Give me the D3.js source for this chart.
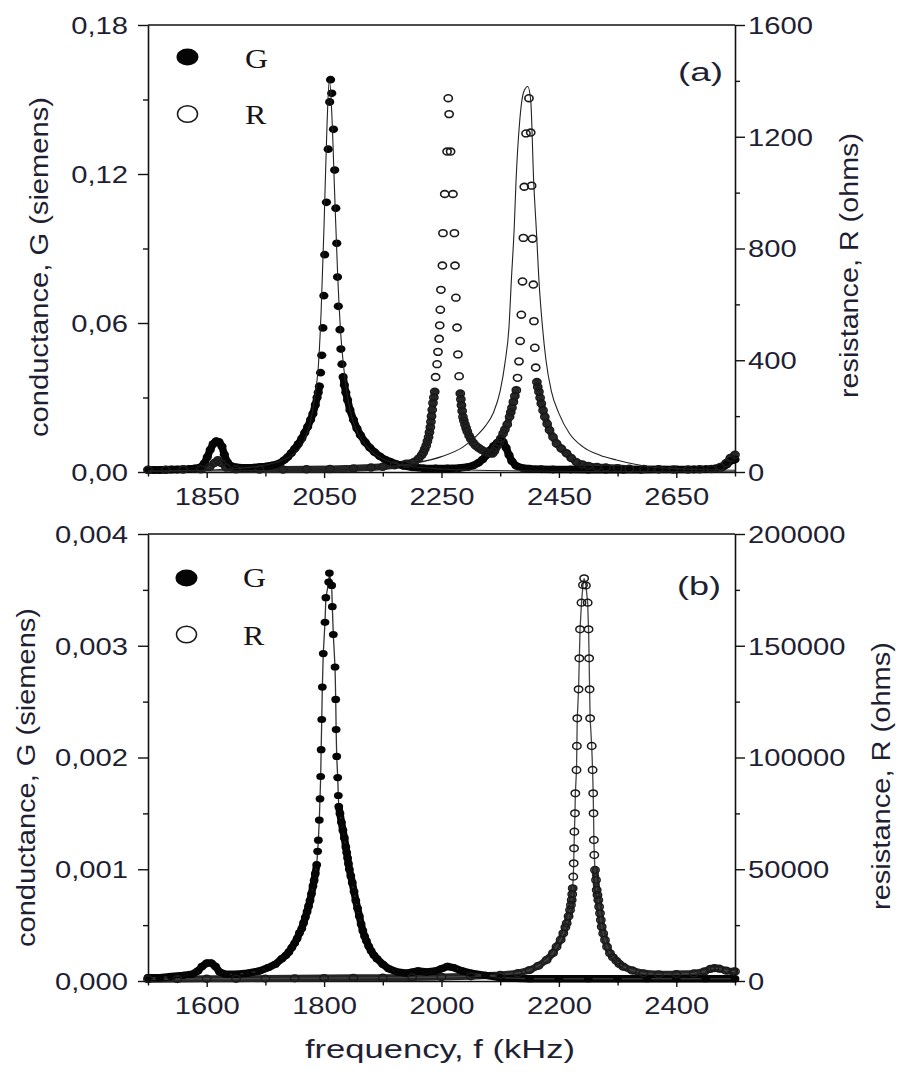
<!DOCTYPE html>
<html>
<head>
<meta charset="utf-8">
<script src="https://cdn.jsdelivr.net/npm/d3@7"></script>
<style>
  html,body{margin:0;padding:0;background:#fff;}
  svg{display:block;}
</style>
</head>
<body>
<script>
// ---------------- DATA ----------------
// Panel (a): frequency (kHz), conductance G (S)
const condA = [[1750,0.0008],[1760,0.0008],[1770,0.0008],[1780,0.0009],[1790,0.001],[1800,0.001],[1810,0.0011],[1820,0.0012],[1830,0.0014],[1840,0.002],[1846,0.0035],[1851,0.006],[1856,0.009],[1861,0.0113],[1866,0.0124],[1871,0.0121],[1876,0.0103],[1880,0.007],[1885,0.004],[1890,0.0026],[1900,0.0019],[1910,0.0017],[1920,0.0017],[1930,0.0018],[1940,0.002],[1950,0.0022],[1960,0.0026],[1968,0.003],[1975,0.0036],[1982,0.0048],[1988,0.006],[1994,0.0076],[2000,0.0094],[2006,0.0113],[2012,0.0135],[2017,0.0158],[2022,0.0182],[2027,0.021],[2031,0.0235],[2035,0.027],[2038,0.03],[2040,0.032],[2042,0.0345],[2044,0.040],[2046,0.047],[2048,0.058],[2049.6,0.071],[2051,0.0875],[2054,0.1086],[2057,0.130],[2059.5,0.149],[2061,0.158],[2063,0.1525],[2066,0.138],[2068,0.1216],[2070,0.1062],[2071.6,0.0921],[2072.8,0.0785],[2074.2,0.0667],[2077,0.0573],[2078.6,0.0495],[2080.4,0.0434],[2082.4,0.0383],[2084.5,0.035],[2087,0.032],[2090,0.029],[2094,0.025],[2100,0.021],[2106,0.0175],[2112,0.0148],[2120,0.012],[2128,0.0098],[2136,0.008],[2145,0.0063],[2154,0.005],[2162,0.0042],[2172,0.0033],[2185,0.0025],[2200,0.0019],[2220,0.0015],[2240,0.0014],[2260,0.0014],[2280,0.0016],[2295,0.002],[2305,0.0027],[2313,0.0037],[2320,0.005],[2327,0.0068],[2333,0.0088],[2339,0.0105],[2345,0.0118],[2350,0.0124],[2355,0.0121],[2360,0.0098],[2365,0.0068],[2370,0.0043],[2377,0.0025],[2388,0.0016],[2400,0.0013],[2420,0.0011],[2440,0.001],[2470,0.001],[2500,0.0009],[2530,0.0009],[2560,0.0009],[2590,0.0009],[2620,0.001],[2650,0.001],[2680,0.001],[2700,0.0011],[2715,0.0013],[2728,0.0018],[2736,0.003],[2743,0.0045],[2750,0.005]];
// Panel (a): frequency (kHz), resistance R (ohms)
const resA = [[1750,8],[1780,8],[1810,9],[1840,10],[1855,18],[1863,32],[1869,42],[1875,32],[1883,16],[1900,10],[1940,9],[1980,9],[2020,10],[2060,11],[2100,13],[2130,16],[2150,19],[2170,24],[2190,30],[2204,37],[2211,48],[2216,60],[2219,70],[2221.5,82],[2224,95],[2226,110],[2228,125],[2229.5,142],[2231,160],[2232,180],[2233,200],[2234.2,223],[2235.5,247],[2237,267],[2238.5,287],[2240,340],[2242.5,386],[2244,430],[2246,477],[2247,525],[2248,581],[2249,652],[2251.5,739],[2252.5,855],[2255.5,995],[2259.5,1147],[2261.5,1338],[2263,1281],[2265.5,1147],[2269.5,995],[2272,855],[2273,739],[2274.5,624],[2276.5,517],[2278,421],[2280,343],[2282,281],[2283,260],[2284,239],[2285.2,218],[2286.5,198],[2288,184],[2290,170],[2292,157],[2294,145],[2297,130],[2300,118],[2304,105],[2308,95],[2313,87],[2318,80],[2323,74],[2328,70],[2333,67],[2337,66],[2340,74],[2342,85],[2345,95],[2348,105],[2351,120],[2355,138],[2358,152],[2362,170],[2366,198],[2368,214],[2370,230],[2372.5,251],[2375,272],[2377.5,293],[2379.5,337],[2382,396],[2384,469],[2386,563],[2388,682],[2389.5,838],[2391,1021],[2394,1212],[2399,1338],[2402,1215],[2403.5,1025],[2405,835],[2406.5,671],[2407.5,540],[2409,445],[2410.5,374],[2412.5,322],[2414,304],[2416,287],[2418,266],[2420,245],[2423,221],[2426,198],[2430,173],[2434,150],[2440,125],[2446,102],[2454,84],[2463,67],[2471,50],[2480,35],[2490,27],[2500,22],[2515,18],[2530,16],[2550,14],[2570,12],[2595,11],[2620,10],[2645,9],[2670,9],[2690,10],[2710,11],[2725,18],[2735,32],[2742,50],[2750,62]];
// Panel (a): fitted curves (thin lines)
const fitCondA = [[1750,0.0004],[1850,0.0008],[1900,0.0014],[1950,0.0028],[1980,0.0048],[2000,0.0075],[2010,0.0100],[2020,0.0148],[2030,0.0240],[2037,0.035],[2040,0.042],[2045,0.065],[2050,0.100],[2055,0.140],[2059,0.158],[2063,0.145],[2068,0.112],[2073,0.080],[2078,0.057],[2083,0.043],[2090,0.030],[2100,0.020],[2110,0.0145],[2120,0.0110],[2133,0.0078],[2150,0.0052],[2170,0.0035],[2200,0.0022],[2250,0.0012],[2300,0.0008],[2400,0.0004],[2500,0.0002],[2750,0.0001]];
const fitResA = [[1750,3],[2000,6],[2100,10],[2150,16],[2200,30],[2250,55],[2287,90],[2310,130],[2325,165],[2338,210],[2350,290],[2358,388],[2365,520],[2369,686],[2374,880],[2377,1043],[2383,1250],[2390,1360],[2397,1380],[2402,1330],[2407,1043],[2412,850],[2416,686],[2422,520],[2428,400],[2437,290],[2450,210],[2468,138],[2491,90],[2520,60],[2548,43],[2604,19],[2650,12],[2700,8],[2750,6]];

// Panel (b): frequency (kHz), conductance G (S)
const condB = [[1500,0.00003],[1520,0.00003],[1540,0.00004],[1560,0.00005],[1575,0.00006],[1585,0.00009],[1592,0.00013],[1600,0.00016],[1608,0.00016],[1615,0.00013],[1622,0.00008],[1632,0.00006],[1650,0.00006],[1670,0.00007],[1690,0.00009],[1705,0.00012],[1717,0.00015],[1728,0.0002],[1735,0.00023],[1740,0.00026],[1745,0.0003],[1750,0.00034],[1754,0.00038],[1758,0.00043],[1762,0.00047],[1765,0.00052],[1768,0.00057],[1771,0.00062],[1773.5,0.00067],[1776,0.00072],[1778.5,0.00078],[1781,0.00085],[1783,0.0009],[1785,0.00096],[1787.4,0.00104],[1789,0.00116],[1790.2,0.00126],[1791.8,0.00144],[1793,0.00163],[1794.2,0.00183],[1795,0.00207],[1796,0.00234],[1797,0.00263],[1798.6,0.00293],[1801.5,0.00321],[1803,0.00343],[1807.8,0.00357],[1809,0.00365],[1812.9,0.00354],[1814,0.00335],[1815.7,0.0031],[1818.6,0.00281],[1819.8,0.00252],[1820.5,0.00225],[1821.5,0.00201],[1823.2,0.00182],[1824.2,0.00166],[1825,0.00156],[1827,0.0015],[1829.5,0.00142],[1832,0.00135],[1834.5,0.00128],[1837,0.0012],[1838.5,0.00115],[1840,0.0011],[1841.5,0.00105],[1843,0.001],[1845.5,0.00094],[1848,0.00088],[1851,0.0008],[1854,0.00072],[1857,0.00065],[1860,0.00058],[1863,0.00051],[1866,0.00045],[1869,0.0004],[1872,0.00036],[1876,0.00031],[1880,0.00027],[1885,0.00023],[1890,0.0002],[1900,0.00015],[1910,0.00011],[1925,0.00008],[1940,0.00007],[1950,0.00008],[1960,0.00009],[1975,0.00008],[1990,0.00009],[2000,0.00011],[2010,0.00013],[2020,0.00012],[2035,0.00009],[2050,0.00007],[2075,0.00005],[2100,0.00003],[2150,0.00002],[2200,0.00002],[2250,0.00002],[2300,0.00002],[2350,0.00002],[2400,0.00002],[2450,0.00002],[2500,0.00002]];
// Panel (b): frequency (kHz), resistance R (ohms)
const resB = [[1500,800],[1550,900],[1600,1000],[1650,1000],[1700,1100],[1750,1200],[1800,1300],[1850,1400],[1900,1500],[1950,1600],[2000,1800],[2050,2100],[2100,2700],[2130,3500],[2150,4900],[2165,6800],[2179,9400],[2190,12500],[2196,15350],[2203,18500],[2207.5,21340],[2211,24000],[2213.3,25810],[2216.5,29000],[2219,31770],[2220.5,34000],[2221.8,36240],[2222.7,38800],[2223.5,41480],[2224.5,46670],[2225.2,52660],[2225.8,59370],[2226.4,66800],[2227.4,75030],[2228,83990],[2230,94410],[2230.6,105150],[2231.3,117540],[2233.5,130520],[2234.8,144380],[2236,157360],[2238.5,169260],[2241,177180],[2243,180180],[2246,177000],[2249,169260],[2250.5,157360],[2251.5,144380],[2252.3,130520],[2253.2,117540],[2255.9,105150],[2257.4,94410],[2258.4,83990],[2259,75030],[2259.6,63090],[2260.3,56380],[2261.5,49660],[2263.2,45190],[2264.4,40720],[2265.7,38500],[2267.1,36240],[2268.5,33200],[2270,30280],[2271.4,27300],[2272.9,24300],[2275.5,21300],[2278.5,18340],[2282,15300],[2287,12390],[2292,10600],[2298,9000],[2303,7600],[2309.7,6400],[2325,4700],[2344,3450],[2370,3000],[2400,3100],[2430,3400],[2448,4300],[2458,5400],[2465,5800],[2473,5500],[2485,4600],[2497,4200],[2500,4300]];

// Axis ticks
const xTicksA = [1850, 2050, 2250, 2450, 2650];
const xMinorA = [1750, 1950, 2150, 2350, 2550, 2750];
const gTicksA = [0, 0.06, 0.12, 0.18];
const gMinorA = [0.03, 0.09, 0.15];
const rTicksA = [0, 400, 800, 1200, 1600];
const rMinorA = [200, 600, 1000, 1400];

const xTicksB = [1600, 1800, 2000, 2200, 2400];
const xMinorB = [1500, 1700, 1900, 2100, 2300, 2500];
const gTicksB = [0, 0.001, 0.002, 0.003, 0.004];
const gMinorB = [0.0005, 0.0015, 0.0025, 0.0035];
const rTicksB = [0, 50000, 100000, 150000, 200000];
const rMinorB = [25000, 75000, 125000, 175000];

const legendLabels = ["G", "R"];
const panelTags = ["(a)", "(b)"];
const xTitle = "frequency, f (kHz)";
const leftTitle = "conductance, G (siemens)";
const rightTitle = "resistance, R (ohms)";

// ---------------- DRAWING ----------------
const W = 902, H = 1072;
const L = 148, R = 735;
const TXT = "#1f1f33";
const SANS = "'Liberation Sans', Arial, sans-serif";
const SERIF = "'Liberation Serif', 'Times New Roman', serif";
const SX = 1.27;  // horizontal stretch of tick labels
const svg = d3.select("body").append("svg").attr("width", W).attr("height", H);
svg.append("rect").attr("width", W).attr("height", H).attr("fill", "#fff");

const panels = [
  {id:"a", top:25, bottom:472, xDomain:[1750,2750], gDomain:[0,0.18], rDomain:[0,1600],
   cond:condA, res:resA, fitCond:fitCondA, fitRes:fitResA, linesThrough:false,
   xTicks:xTicksA, xMinor:xMinorA, gTicks:gTicksA, gMinor:gMinorA, rTicks:rTicksA, rMinor:rMinorA,
   gFmt:d=>d.toFixed(2).replace(".", ","), gBand:0.05, rBand:400,
   mk:{grx:4.6, gry:3.9, rrx:4.1, rry:3.4, rsw:1.6},
   leg:{cx:187.5, gy:57, ry:114, tx:245, gBase:68, rBase:124},
   tag:{x:678, base:81, len:45, text:panelTags[0]},
   lt:{x:47.5, cy:267, len:340}, rt:{x:857.5, cy:265.5, len:265}},
  {id:"b", top:534, bottom:981, xDomain:[1500,2500], gDomain:[0,0.004], rDomain:[0,200000],
   cond:condB, res:resB, fitCond:null, fitRes:null, linesThrough:true,
   xTicks:xTicksB, xMinor:xMinorB, gTicks:gTicksB, gMinor:gMinorB, rTicks:rTicksB, rMinor:rMinorB,
   gFmt:d=>d.toFixed(3).replace(".", ","), gBand:0.0018, rBand:60000,
   mk:{grx:4.4, gry:3.6, rrx:4.2, rry:3.4, rsw:1.5},
   leg:{cx:186.5, gy:578, ry:634.5, tx:243, gBase:587, rBase:645},
   tag:{x:677, base:595, len:44, text:panelTags[1]},
   lt:{x:34.5, cy:777.5, len:339}, rt:{x:889.5, cy:776, len:268}}
];

// runs of consecutive, closely spaced points (where the sweep markers merge into a band)
function denseRuns(data, yScale, maxV, maxDy) {
  const runs = [];
  let cur = null;
  for (let i = 0; i < data.length - 1; i++) {
    const a = data[i], b = data[i + 1];
    const ok = a[1] <= maxV && b[1] <= maxV && Math.abs(yScale(a[1]) - yScale(b[1])) <= maxDy;
    if (ok) {
      if (!cur) { cur = [a]; runs.push(cur); }
      cur.push(b);
    } else cur = null;
  }
  return runs;
}

panels.forEach(p => {
  const x = d3.scaleLinear().domain(p.xDomain).range([L, R]);
  const yG = d3.scaleLinear().domain(p.gDomain).range([p.bottom, p.top]);
  const yR = d3.scaleLinear().domain(p.rDomain).range([p.bottom, p.top]);
  const g = svg.append("g");

  // ---- axes ----
  const styleAxis = sel => {
    sel.attr("font-family", SANS).attr("font-size", 23);
    sel.selectAll("line").attr("stroke", "#111").attr("stroke-width", 1.4);
    sel.selectAll("path.domain").attr("stroke", "#111").attr("stroke-width", 1.6);
    sel.selectAll("text").attr("fill", TXT);
  };
  const bx = g.append("g").attr("transform", `translate(0,${p.bottom})`)
    .call(d3.axisBottom(x).tickValues(p.xTicks).tickSize(6).tickSizeOuter(0).tickFormat(d=>String(d)));
  styleAxis(bx);
  bx.selectAll("text").attr("y", 17).attr("dy", "0.71em").attr("transform", `scale(${SX},1)`);
  const bxm = g.append("g").attr("transform", `translate(0,${p.bottom})`)
    .call(d3.axisBottom(x).tickValues(p.xMinor).tickSize(4.5).tickSizeOuter(0).tickFormat(""));
  styleAxis(bxm); bxm.select("path.domain").remove();
  const ly = g.append("g").attr("transform", `translate(${L},0)`)
    .call(d3.axisLeft(yG).tickValues(p.gTicks).tickSize(10).tickSizeOuter(0).tickFormat(p.gFmt));
  styleAxis(ly);
  ly.selectAll("text").attr("x", -20 / SX).attr("dy", "0.36em").attr("transform", `scale(${SX},1)`);
  const lym = g.append("g").attr("transform", `translate(${L},0)`)
    .call(d3.axisLeft(yG).tickValues(p.gMinor).tickSize(5).tickSizeOuter(0).tickFormat(""));
  styleAxis(lym); lym.select("path.domain").remove();
  const ry = g.append("g").attr("transform", `translate(${R},0)`)
    .call(d3.axisRight(yR).tickValues(p.rTicks).tickSize(10).tickSizeOuter(0).tickFormat(d=>String(d)));
  styleAxis(ry);
  ry.selectAll("text").attr("x", 13 / SX).attr("dy", "0.36em").attr("transform", `scale(${SX},1)`);
  const rym = g.append("g").attr("transform", `translate(${R},0)`)
    .call(d3.axisRight(yR).tickValues(p.rMinor).tickSize(5).tickSizeOuter(0).tickFormat(""));
  styleAxis(rym); rym.select("path.domain").remove();
  g.append("line").attr("x1", L).attr("x2", R).attr("y1", p.top).attr("y2", p.top)
    .attr("stroke", "#111").attr("stroke-width", 1.6);

  const lineG = d3.line().x(d=>x(d[0])).y(d=>yG(d[1]));
  const lineR = d3.line().x(d=>x(d[0])).y(d=>yR(d[1]));

  // ---- dense-sweep bands ----
  g.append("g").selectAll("path").data(denseRuns(p.res, yR, p.rBand, 10)).join("path")
    .attr("d", lineR).attr("fill", "none").attr("stroke", "#262626").attr("stroke-width", 7)
    .attr("stroke-linejoin", "round").attr("stroke-linecap", "round");
  g.append("g").selectAll("path").data(denseRuns(p.cond, yG, p.gBand, 10)).join("path")
    .attr("d", lineG).attr("fill", "none").attr("stroke", "#050505").attr("stroke-width", 7.5)
    .attr("stroke-linejoin", "round").attr("stroke-linecap", "round");

  if (p.linesThrough) {
    g.append("path").datum(p.res).attr("d", lineR).attr("fill", "none")
      .attr("stroke", "#444").attr("stroke-width", 1.3);
    g.append("path").datum(p.cond).attr("d", lineG).attr("fill", "none")
      .attr("stroke", "#333").attr("stroke-width", 1.3);
  }

  // ---- markers ----
  g.append("g").selectAll("ellipse").data(p.cond).join("ellipse")
    .attr("cx", d=>x(d[0])).attr("cy", d=>yG(d[1]))
    .attr("rx", p.mk.grx).attr("ry", p.mk.gry).attr("fill", "#050505");
  g.append("g").selectAll("ellipse").data(p.res).join("ellipse")
    .attr("cx", d=>x(d[0])).attr("cy", d=>yR(d[1]))
    .attr("rx", p.mk.rrx).attr("ry", p.mk.rry).attr("fill", "none")
    .attr("stroke", "#1a1a1a").attr("stroke-width", p.mk.rsw);

  // ---- fitted curves (panel a) ----
  if (p.fitCond) {
    g.append("path").datum(p.fitCond).attr("d", d3.line().x(d=>x(d[0])).y(d=>yG(d[1])).curve(d3.curveMonotoneX))
      .attr("fill", "none").attr("stroke", "#222").attr("stroke-width", 1.1);
  }
  if (p.fitRes) {
    g.append("path").datum(p.fitRes).attr("d", d3.line().x(d=>x(d[0])).y(d=>yR(d[1])).curve(d3.curveMonotoneX))
      .attr("fill", "none").attr("stroke", "#222").attr("stroke-width", 1.1);
  }

  // ---- legend ----
  g.append("ellipse").attr("cx", p.leg.cx).attr("cy", p.leg.gy).attr("rx", 11).attr("ry", 8.5).attr("fill", "#050505");
  g.append("ellipse").attr("cx", p.leg.cx).attr("cy", p.leg.ry).attr("rx", 10).attr("ry", 8.3)
    .attr("fill", "none").attr("stroke", "#1a1a1a").attr("stroke-width", 1.5);
  g.append("text").attr("transform", `translate(${p.leg.tx},${p.leg.gBase}) scale(1.18,1)`)
    .attr("font-family", SERIF).attr("font-size", 27).attr("fill", "#1a1414").text(legendLabels[0]);
  g.append("text").attr("transform", `translate(${p.leg.tx},${p.leg.rBase}) scale(1.18,1)`)
    .attr("font-family", SERIF).attr("font-size", 27).attr("fill", "#1a1414").text(legendLabels[1]);

  // ---- panel tag ----
  g.append("text").attr("x", p.tag.x).attr("y", p.tag.base).attr("font-family", SANS).attr("font-size", 26)
    .attr("fill", TXT).attr("textLength", p.tag.len).attr("lengthAdjust", "spacingAndGlyphs").text(p.tag.text);

  // ---- axis titles ----
  g.append("text").attr("transform", `translate(${p.lt.x},${p.lt.cy}) rotate(-90)`)
    .attr("text-anchor", "middle").attr("font-family", SANS).attr("font-size", 26).attr("fill", TXT)
    .attr("textLength", p.lt.len).attr("lengthAdjust", "spacingAndGlyphs").text(leftTitle);
  g.append("text").attr("transform", `translate(${p.rt.x},${p.rt.cy}) rotate(-90)`)
    .attr("text-anchor", "middle").attr("font-family", SANS).attr("font-size", 26).attr("fill", TXT)
    .attr("textLength", p.rt.len).attr("lengthAdjust", "spacingAndGlyphs").text(rightTitle);
});

svg.append("text").attr("x", 440).attr("y", 1058).attr("text-anchor", "middle")
  .attr("font-family", SANS).attr("font-size", 26).attr("fill", TXT)
  .attr("textLength", 270).attr("lengthAdjust", "spacingAndGlyphs").text(xTitle);
</script>
</body>
</html>
